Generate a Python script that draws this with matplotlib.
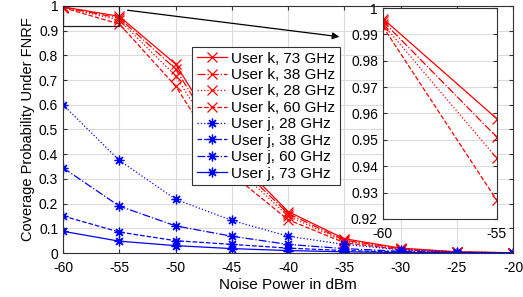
import matplotlib
matplotlib.use('Agg')
import matplotlib.pyplot as plt
import matplotlib.patches as patches
import numpy as np

plt.rcParams['font.family'] = ['Liberation Sans', 'DejaVu Sans']
plt.rcParams['axes.unicode_minus'] = False

noise = [-60, -55, -50, -45, -40, -35, -30, -25, -20]

k73 = [0.996, 0.958, 0.765, 0.40, 0.168, 0.058, 0.020, 0.005, 0.001]
k38 = [0.995, 0.951, 0.745, 0.38, 0.160, 0.052, 0.018, 0.004, 0.001]
k28 = [0.994, 0.943, 0.717, 0.36, 0.150, 0.048, 0.016, 0.004, 0.001]
k60 = [0.993, 0.927, 0.676, 0.32, 0.135, 0.042, 0.014, 0.003, 0.001]
j28 = [0.600, 0.375, 0.218, 0.132, 0.068, 0.035, 0.013, 0.004, 0.001]
j38 = [0.150, 0.085, 0.050, 0.035, 0.020, 0.010, 0.004, 0.001, 0.000]
j60 = [0.345, 0.190, 0.110, 0.068, 0.035, 0.018, 0.007, 0.002, 0.001]
j73 = [0.088, 0.048, 0.030, 0.018, 0.010, 0.005, 0.002, 0.001, 0.000]

series = [
    (k73, 'User k, 73 GHz', 'r', '-', 'x'),
    (k38, 'User k, 38 GHz', 'r', '-.', 'x'),
    (k28, 'User k, 28 GHz', 'r', ':', 'x'),
    (k60, 'User k, 60 GHz', 'r', '--', 'x'),
    (j28, 'User j, 28 GHz', 'b', ':', (8, 2, 0)),
    (j38, 'User j, 38 GHz', 'b', '--', (8, 2, 0)),
    (j60, 'User j, 60 GHz', 'b', '-.', (8, 2, 0)),
    (j73, 'User j, 73 GHz', 'b', '-', (8, 2, 0)),
]


def style_axes(ax):
    ax.grid(True, color='#dcdcdc', linewidth=0.8)
    ax.set_axisbelow(True)
    ax.tick_params(direction='in', top=True, right=True, labelsize=10,
                   color='#333333', length=3)
    ax.tick_params(axis='x', pad=6)
    for s in ax.spines.values():
        s.set_color('#333333')
        s.set_linewidth(0.8)


fig = plt.figure(figsize=(5.23, 2.97), dpi=100)
ax = fig.add_axes([0.1205, 0.148, 0.8605, 0.832])
for y, lab, c, ls, mk in series:
    ax.plot(noise, y, color=c, linestyle=ls, marker=mk, markersize=7,
            linewidth=0.9, markeredgewidth=0.9, label=lab)
ax.set_xlim(-60, -20)
ax.set_ylim(0, 1)
ax.set_xticks(noise)
ax.set_yticks(np.arange(0, 1.01, 0.1))
ax.set_yticklabels(['0', '0.1', '0.2', '0.3', '0.4', '0.5', '0.6', '0.7', '0.8', '0.9', '1'])
style_axes(ax)
ax.set_xlabel('Noise Power in dBm', fontsize=11, labelpad=2)
ax.set_ylabel('Coverage Probability Under FNRF', fontsize=10.5, labelpad=3)

leg = ax.legend(loc='upper left', bbox_to_anchor=(0.287, 0.834), fontsize=11,
                handlelength=2.0, borderpad=0.3, labelspacing=0.16,
                handletextpad=0.25, fancybox=False, framealpha=1,
                edgecolor='#333333', borderaxespad=0)
leg.get_frame().set_linewidth(0.8)

# zoom box and arrow
ax.add_patch(patches.Rectangle((-60, 0.92), 5, 0.08, fill=False,
                               edgecolor='#222222', linewidth=0.9, zorder=5))
ax.annotate('', xy=(-35.2, 0.874), xytext=(-54.5, 0.984),
            arrowprops=dict(arrowstyle='-|>', color='black', lw=0.9,
                            mutation_scale=10))

ins = fig.add_axes([0.732, 0.263, 0.218, 0.71])
for y, lab, c, ls, mk in series[:4]:
    ins.plot(noise[:2], y[:2], color=c, linestyle=ls, marker=mk, markersize=7,
             linewidth=0.9, markeredgewidth=0.9)
ins.set_xlim(-60, -55)
ins.set_ylim(0.92, 1)
ins.set_xticks([-60, -55])
ins.set_yticks(np.arange(0.92, 1.001, 0.01))
ins.set_yticklabels(['0.92', '0.93', '0.94', '0.95', '0.96', '0.97', '0.98', '0.99', '1'])
style_axes(ins)
ins.grid(False, axis='x')

fig.savefig('out.png', dpi=100)
